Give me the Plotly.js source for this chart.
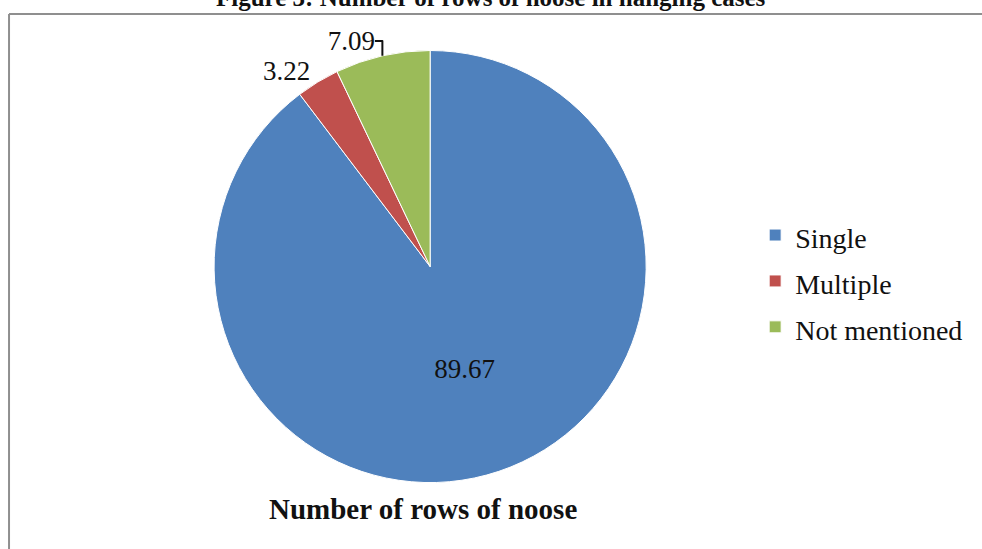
<!DOCTYPE html>
<html><head><meta charset="utf-8">
<script src="https://cdn.plot.ly/plotly-3.0.1.min.js"></script>
<style>html,body{margin:0;padding:0;background:#fff}#chart{width:982px;height:549px}</style>
</head><body><div id="chart"></div>
<script>
const categories = ['Single', 'Multiple', 'Not mentioned'];
const values = [89.67, 3.22, 7.09];
const sliceColors = ['#4F81BD', '#C0504D', '#9BBB59'];
const textPositions = ['inside', 'outside', 'outside'];
const chartTitle = 'Figure 3: Number of rows of noose in hanging cases';
const pieTitle = 'Number of rows of noose';
const serif = '"Liberation Serif", "Times New Roman", Times, serif';

const trace = {
  type: 'pie',
  labels: categories.map(c => '<span style="font-size:28px">' + c + '</span>'),
  values: values,
  sort: false,
  direction: 'clockwise',
  rotation: 0,
  marker: {colors: sliceColors, line: {color: '#ffffff', width: 1}},
  texttemplate: '%{value:.2f}',
  textposition: textPositions,
  insidetextorientation: 'horizontal',
  textfont: {family: serif, size: 27, color: '#111111'},
  domain: {x: [0.218, 0.658], y: [0.121, 0.908]},
  hoverinfo: 'none'
};

const layout = {
  width: 982, height: 549,
  margin: {l: 0, r: 0, t: 0, b: 0},
  paper_bgcolor: '#ffffff',
  showlegend: true,
  legend: {
    x: 0.769, xanchor: 'left', y: 0.488, yanchor: 'middle',
    font: {family: serif, size: 33, color: '#111111'},
    bgcolor: 'rgba(0,0,0,0)'
  },
  shapes: [
    {type: 'line', xref: 'paper', yref: 'paper', x0: 0.0092, x1: 1, y0: 0.9745, y1: 0.9745, line: {color: '#8f8f8f', width: 2}},
    {type: 'line', xref: 'paper', yref: 'paper', x0: 0.0092, x1: 0.0092, y0: 0, y1: 0.9745, line: {color: '#8f8f8f', width: 2}}
  ],
  annotations: [
    {text: '<b>' + chartTitle + '</b>', xref: 'paper', yref: 'paper', x: 0.5, y: 1, yanchor: 'bottom', yshift: -13, showarrow: false,
     font: {family: serif, size: 25, color: '#111111'}},
    {text: '<b>' + pieTitle + '</b>', xref: 'paper', yref: 'paper', x: 0.431, y: 0.0729, yanchor: 'middle', showarrow: false,
     font: {family: serif, size: 29, color: '#111111'}}
  ]
};

Plotly.newPlot('chart', [trace], layout, {displayModeBar: false, staticPlot: true});
</script>
</body></html>
